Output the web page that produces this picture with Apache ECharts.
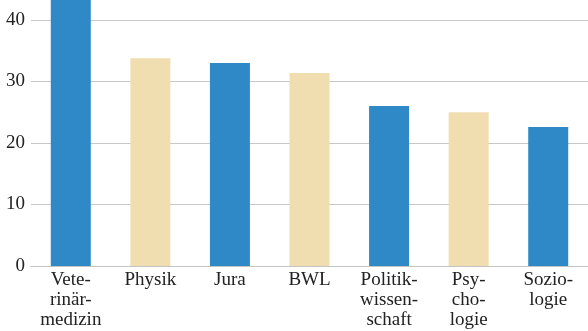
<!DOCTYPE html>
<html>
<head>
<meta charset="utf-8">
<script src="https://cdn.jsdelivr.net/npm/echarts@6/dist/echarts.min.js"></script>
<style>
  html, body { margin: 0; padding: 0; background: #fff; }
  #chart { width: 588px; height: 331px; }
</style>
</head>
<body>
<div id="chart"></div>
<script>
// Studienfächer und Werte
var categories = ['Vete-\nrinär-\nmedizin', 'Physik', 'Jura', 'BWL', 'Politik-\nwissen-\nschaft', 'Psy-\ncho-\nlogie', 'Sozio-\nlogie'];
var values = [45, 33.8, 33.0, 31.4, 26.0, 25.0, 22.6];
var barColors = ['#2f89c6', '#f0ddb0', '#2f89c6', '#f0ddb0', '#2f89c6', '#f0ddb0', '#2f89c6'];
var yTicks = [0, 10, 20, 30, 40];

var chart = echarts.init(document.getElementById('chart'));
chart.setOption({
    animation: false,
    grid: {
        left: 31,
        top: 20,
        width: 560,
        bottom: 65
    },
    xAxis: {
        type: 'category',
        data: categories,
        axisTick: { show: false },
        axisLine: { lineStyle: { color: '#c4c4c4', width: 1 } },
        axisLabel: {
            interval: 0,
            margin: 4,
            color: '#222',
            fontFamily: 'Liberation Serif',
            fontSize: 19,
            lineHeight: 20
        }
    },
    yAxis: {
        type: 'value',
        min: yTicks[0],
        max: yTicks[yTicks.length - 1],
        interval: 10,
        axisLine: { show: false },
        axisTick: { show: false },
        splitLine: { lineStyle: { color: '#c8c8c8', width: 1 } },
        axisLabel: {
            margin: 6,
            color: '#222',
            fontFamily: 'Liberation Serif',
            fontSize: 19
        }
    },
    series: [{
        type: 'bar',
        clip: false,
        barWidth: 40,
        data: values.map(function (v, i) {
            return { value: v, itemStyle: { color: barColors[i] } };
        })
    }]
});
</script>
</body>
</html>
